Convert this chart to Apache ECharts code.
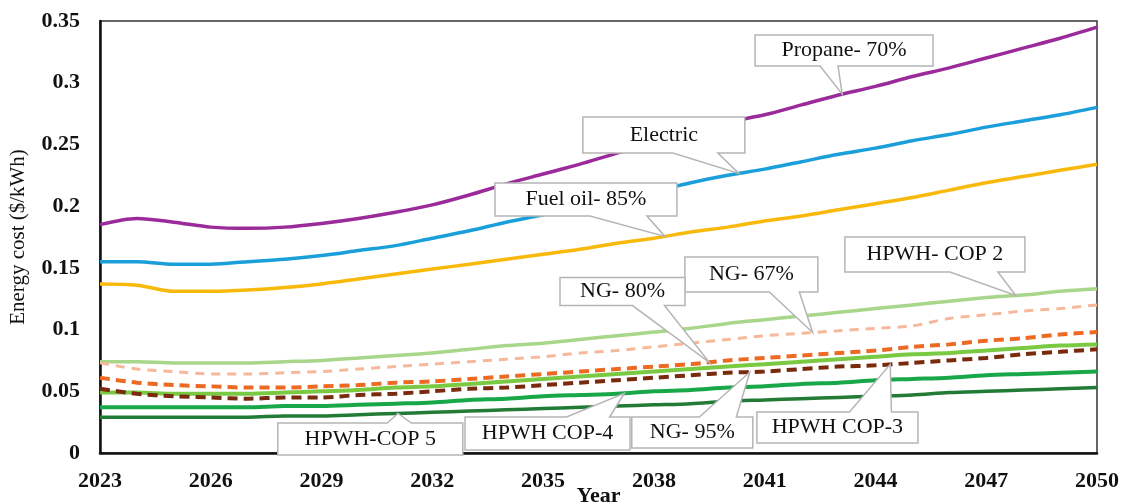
<!DOCTYPE html>
<html><head><meta charset="utf-8">
<script src="https://cdn.jsdelivr.net/npm/echarts@6/dist/echarts.min.js"></script>
<style>html,body{margin:0;padding:0;background:#fff}#c{width:1126px;height:504px}</style>
</head><body><div id="c"></div>
<script>
const years = [2023,2024,2025,2026,2027,2028,2029,2030,2031,2032,2033,2034,2035,2036,2037,2038,2039,2040,2041,2042,2043,2044,2045,2046,2047,2048,2049,2050];
const propane = [0.185,0.190,0.187,0.183,0.182,0.183,0.186,0.190,0.195,0.201,0.209,0.218,0.226,0.234,0.243,0.251,0.259,0.268,0.274,0.282,0.290,0.297,0.305,0.312,0.320,0.328,0.336,0.345];
const electric = [0.155,0.155,0.153,0.153,0.155,0.157,0.160,0.164,0.168,0.174,0.180,0.187,0.193,0.200,0.207,0.212,0.219,0.225,0.230,0.236,0.242,0.247,0.253,0.258,0.264,0.269,0.274,0.280];
const fuelOil = [0.137,0.136,0.131,0.131,0.132,0.134,0.137,0.141,0.145,0.149,0.153,0.157,0.161,0.165,0.170,0.174,0.179,0.183,0.188,0.192,0.197,0.202,0.207,0.213,0.219,0.224,0.229,0.234];
const cop2 = [0.074,0.074,0.073,0.073,0.073,0.074,0.075,0.077,0.079,0.081,0.084,0.087,0.089,0.092,0.095,0.098,0.101,0.105,0.108,0.111,0.114,0.117,0.120,0.123,0.126,0.128,0.131,0.133];
const ng67 = [0.073,0.068,0.066,0.064,0.064,0.065,0.066,0.068,0.070,0.072,0.074,0.076,0.078,0.081,0.083,0.086,0.089,0.092,0.095,0.097,0.099,0.101,0.103,0.109,0.112,0.115,0.117,0.120];
const ng80 = [0.061,0.057,0.055,0.054,0.053,0.053,0.054,0.055,0.057,0.058,0.060,0.062,0.064,0.066,0.068,0.070,0.072,0.075,0.077,0.079,0.081,0.083,0.086,0.088,0.091,0.093,0.096,0.098];
const cop3 = [0.049,0.049,0.048,0.048,0.048,0.049,0.050,0.051,0.053,0.054,0.056,0.058,0.060,0.062,0.064,0.066,0.068,0.070,0.072,0.074,0.076,0.078,0.080,0.081,0.083,0.085,0.087,0.088];
const ng95 = [0.052,0.048,0.046,0.045,0.044,0.045,0.045,0.047,0.048,0.050,0.052,0.053,0.055,0.057,0.059,0.061,0.063,0.065,0.066,0.068,0.070,0.071,0.073,0.075,0.077,0.080,0.082,0.084];
const cop4 = [0.037,0.037,0.037,0.037,0.037,0.038,0.038,0.039,0.040,0.041,0.043,0.044,0.046,0.047,0.048,0.050,0.051,0.053,0.054,0.056,0.057,0.059,0.060,0.061,0.063,0.064,0.065,0.066];
const cop5 = [0.029,0.029,0.029,0.029,0.029,0.030,0.030,0.031,0.032,0.033,0.034,0.035,0.036,0.037,0.038,0.039,0.040,0.042,0.043,0.044,0.045,0.046,0.047,0.049,0.050,0.051,0.052,0.053];
const seriesNames = ['Propane- 70%','Electric','Fuel oil- 85%','HPWH- COP 2','NG- 67%','NG- 80%','HPWH COP-3','NG- 95%','HPWH COP-4','HPWH-COP 5'];
const seriesValues = [propane,electric,fuelOil,cop2,ng67,ng80,cop3,ng95,cop4,cop5];

// styles (not data)
const styles = [
  {color:'#9B2A9B', width:3.5},
  {color:'#1A9FDB', width:3.5},
  {color:'#F9B90A', width:3.5},
  {color:'#A8D68A', width:3.5},
  {color:'#F6B89A', width:3, type:[9,7]},
  {color:'#EE6A22', width:4, type:[10,6]},
  {color:'#7AC943', width:4},
  {color:'#7A2A0E', width:4, type:[10,6]},
  {color:'#18A84A', width:4},
  {color:'#217A35', width:3.5}
];

// callouts: label text, box center in data coords, box size px, wedge edge/base offsets, tip series index & year
const callouts = [
  {text:'Propane- 70%', c:[2043.15,0.3261], w:178, h:31, edge:'bottom', base:[-24,-6], tipS:0, tipX:2043.1},
  {text:'Electric', c:[2038.27,0.2576], w:162, h:36, edge:'bottom', base:[9,54], tipS:1, tipX:2040.3},
  {text:'Fuel oil- 85%', c:[2036.16,0.2054], w:182, h:33, edge:'bottom', base:[4,61], tipS:2, tipX:2038.3},
  {text:'HPWH- COP 2', c:[2045.61,0.1608], w:180, h:35, edge:'bottom', base:[15,63], tipS:3, tipX:2047.8},
  {text:'NG- 67%', c:[2040.64,0.1446], w:133, h:35, edge:'bottom', base:[18,48], tipS:4, tipX:2042.3},
  {text:'NG- 80%', c:[2037.15,0.1308], w:125, h:28, edge:'bottom', base:[10,42], tipS:5, tipX:2039.5},
  {text:'HPWH-COP 5', c:[2030.32,0.0113], w:185, h:32, edge:'top', base:[17,41], tipS:9, tipX:2031.07},
  {text:'HPWH COP-4', c:[2035.12,0.0158], w:165, h:33, edge:'top', base:[19,62], tipS:8, tipX:2037.2},
  {text:'NG- 95%', c:[2039.04,0.0166], w:121, h:31, edge:'top', base:[7,44], tipS:7, tipX:2040.6},
  {text:'HPWH COP-3', c:[2042.97,0.0207], w:161, h:31, edge:'top', base:[12,54], tipS:7, tipX:2044.4}
];

const FONT = 'Liberation Serif';
const TXT = '#111';
const chart = echarts.init(document.getElementById('c'), null, {renderer:'canvas'});

const series = seriesNames.map((n,i)=>({
  name:n, type:'line', smooth:0.3, showSymbol:false, symbol:'none',
  data: years.map((y,k)=>[y, seriesValues[i][k]]),
  lineStyle:{color:styles[i].color, width:styles[i].width, type:styles[i].type||'solid'},
  itemStyle:{color:styles[i].color},
  z: 2
}));

chart.setOption({
  animation:false,
  backgroundColor:'#fff',
  grid:{left:100, right:29, top:21, bottom:51, containLabel:false, outerBoundsMode:'none',
    show:true, borderColor:'#333', borderWidth:1.5, backgroundColor:'transparent'},
  xAxis:{type:'value', min:2023, max:2050, interval:3,
    name:'Year', nameLocation:'middle', nameGap:32, nameMoveOverlap:false,
    nameTextStyle:{fontFamily:FONT, fontSize:22, color:TXT, fontWeight:'bold', verticalAlign:'top'},
    axisLine:{show:true, lineStyle:{color:'#111', width:2.5}},
    axisTick:{show:false}, splitLine:{show:false},
    axisLabel:{fontFamily:FONT, fontSize:22, color:TXT, fontWeight:'bold', margin:17, formatter:v=>String(v)}
  },
  yAxis:{type:'value', min:0, max:0.35, interval:0.05,
    name:'Energy cost ($/kWh)', nameLocation:'middle', nameGap:71, nameRotate:90, nameMoveOverlap:false,
    nameTextStyle:{fontFamily:FONT, fontSize:21, color:TXT},
    axisLine:{show:true, lineStyle:{color:'#111', width:2.5}},
    axisTick:{show:false}, splitLine:{show:false},
    axisLabel:{fontFamily:FONT, fontSize:22, color:TXT, fontWeight:'bold', margin:20,
      formatter:v=>String(parseFloat(v.toFixed(2)))}
  },
  series
});

function interp(arr, x){
  const i = Math.max(0, Math.min(years.length-2, Math.floor(x - years[0])));
  const t = (x - years[i])/(years[i+1]-years[i]);
  return arr[i] + (arr[i+1]-arr[i])*t;
}

const elements = [];
callouts.forEach((co, k)=>{
  const [cx, cy] = chart.convertToPixel({gridIndex:0}, co.c);
  const tip = chart.convertToPixel({gridIndex:0}, [co.tipX, interp(seriesValues[co.tipS], co.tipX)]);
  const x0 = cx - co.w/2, x1 = cx + co.w/2, y0 = cy - co.h/2, y1 = cy + co.h/2;
  const b1 = cx + co.base[0], b2 = cx + co.base[1];
  let pts;
  if (co.edge === 'bottom') {
    pts = [[x0,y0],[x1,y0],[x1,y1],[b2,y1],tip,[b1,y1],[x0,y1]];
  } else {
    pts = [[x0,y0],[b1,y0],tip,[b2,y0],[x1,y0],[x1,y1],[x0,y1]];
  }
  elements.push({type:'polygon', z:100+k*2, shape:{points:pts},
    style:{fill:'#fff', stroke:'#b5b5b5', lineWidth:1.5}});
  elements.push({type:'text', z:101+k*2, x:cx, y:cy,
    style:{text:co.text, fontFamily:FONT, fontSize:22, fill:TXT, align:'center', verticalAlign:'middle'}});
});
chart.setOption({graphic:{elements}});
</script>
</body></html>
